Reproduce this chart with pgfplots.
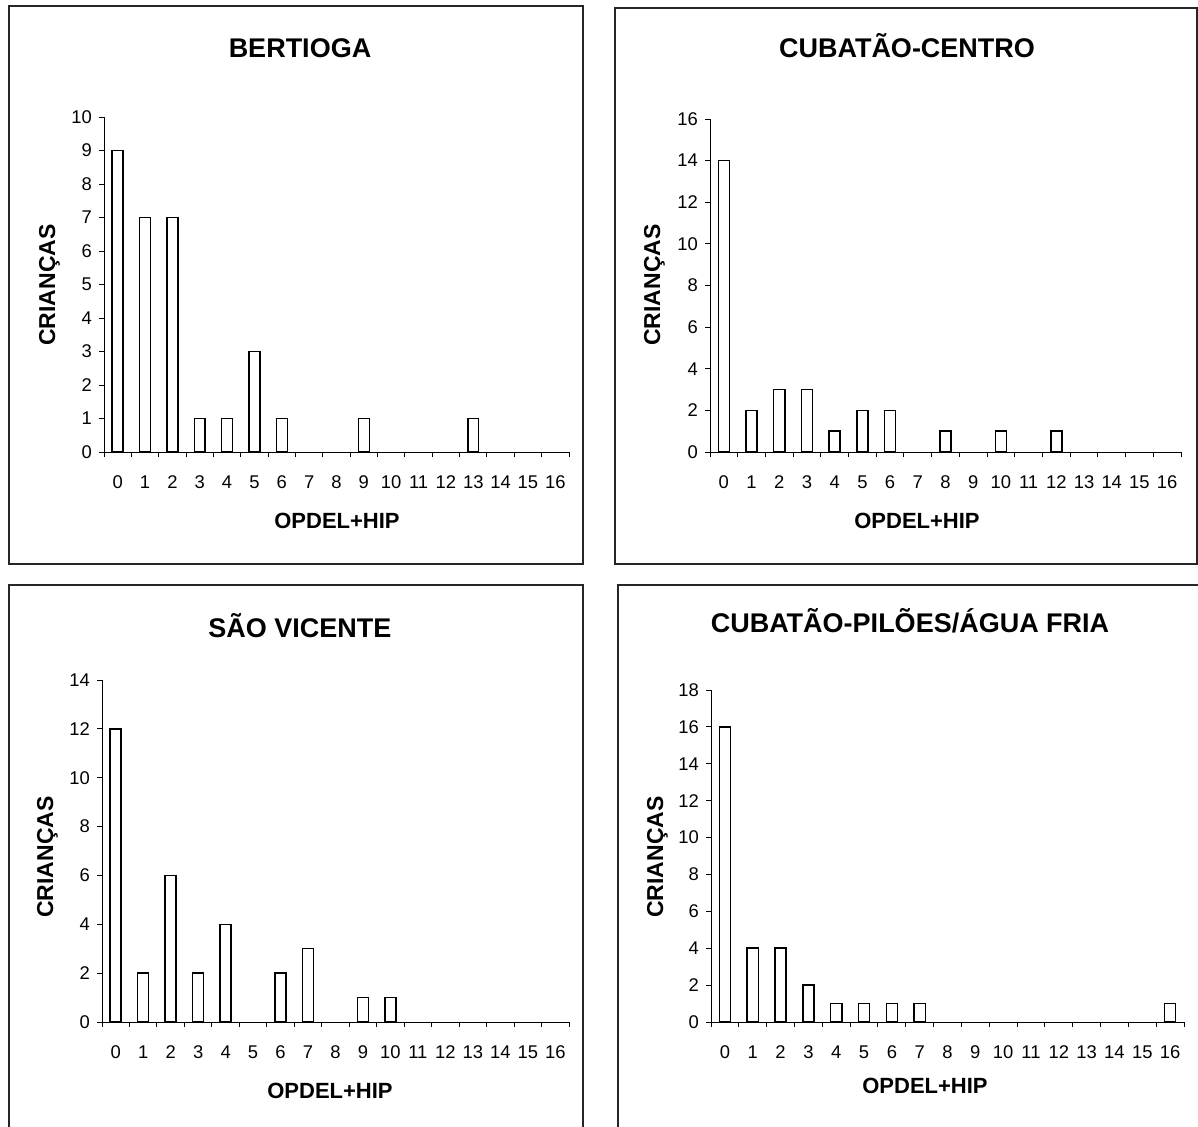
\documentclass[border=0pt]{standalone}
\usepackage{pgfplots}
\pgfplotsset{compat=1.18}
\usepackage{fontspec}
\setmainfont{Liberation Sans}
\pgfplotsset{
  panel/.style={
    scale only axis, anchor=south west,
    xmin=-0.5, xmax=16.5, ymin=0,
    axis x line*=bottom, axis y line*=left,
    axis line style={-, black, line width=0.5pt},
    x axis line style={-}, y axis line style={-},
    xtick={0,...,16},
    minor xtick={-0.5,0.5,...,16.5},
    major x tick style={draw=none},
    minor x tick style={black, line width=0.5pt},
    y tick style={black, line width=0.5pt},
    tick align=outside,
    major tick length=2.5pt, minor tick length=2.5pt,
    tick label style={font=\fontsize{9.2}{10}\selectfont},
    /pgf/number format/assume math mode=true,
    xticklabel style={yshift=-6pt},
    yticklabel style={xshift=0pt},
    ybar, bar width=0.4,
  },
}
\tikzset{
  bars/.style={fill=white, draw=black, line width=0.75pt},
  ttl/.style={font=\fontsize{13.5}{16}\selectfont\bfseries, anchor=base},
  xlab/.style={font=\fontsize{11}{13}\selectfont\bfseries, anchor=base},
  ylab/.style={font=\fontsize{11.5}{13}\selectfont\bfseries, anchor=base, rotate=90},
}
\begin{document}
\begin{tikzpicture}
\path[use as bounding box] (0pt,0pt) rectangle (599pt,-563pt);
\clip (0pt,0pt) rectangle (599pt,-563pt);
% frames
\draw[black!85, line width=0.8pt] (4.5pt,-3pt) rectangle (291.5pt,-282pt);
\draw[black!85, line width=0.8pt] (307.5pt,-4pt) rectangle (598.5pt,-282pt);
\draw[black!85, line width=0.8pt] (4.5pt,-292.5pt) rectangle (291.5pt,-570pt);
\draw[black!85, line width=0.8pt] (309pt,-292.5pt) rectangle (605pt,-570pt);
% titles
\node[ttl] at (150pt,-28.5pt) {BERTIOGA};
\node[ttl] at (453.5pt,-28.5pt) {CUBATÃO-CENTRO};
\node[ttl] at (150pt,-318.5pt) {SÃO VICENTE};
\node[ttl] at (455pt,-316pt) {CUBATÃO-PILÕES/ÁGUA FRIA};
% x labels
\node[xlab] at (168.5pt,-264pt) {OPDEL+HIP};
\node[xlab] at (458.5pt,-264pt) {OPDEL+HIP};
\node[xlab] at (165pt,-549pt) {OPDEL+HIP};
\node[xlab] at (462.5pt,-546.5pt) {OPDEL+HIP};
% y labels
\node[ylab] at (27.5pt,-142.5pt) {CRIANÇAS};
\node[ylab] at (330pt,-142.5pt) {CRIANÇAS};
\node[ylab] at (26.5pt,-428.5pt) {CRIANÇAS};
\node[ylab] at (331.5pt,-428.5pt) {CRIANÇAS};
% BERTIOGA
\begin{axis}[panel, at={(52pt,-226pt)}, width=232.5pt, height=167.5pt,
  ymax=10, ytick={0,1,...,10}]
\addplot[bars] coordinates {(0,9) (1,7) (2,7) (3,1) (4,1) (5,3) (6,1) (9,1) (13,1)};
\end{axis}
% CUBATAO-CENTRO
\begin{axis}[panel, at={(355pt,-226pt)}, width=235.5pt, height=166.5pt,
  ymax=16, ytick={0,2,...,16}]
\addplot[bars] coordinates {(0,14) (1,2) (2,3) (3,3) (4,1) (5,2) (6,2) (8,1) (10,1) (12,1)};
\end{axis}
% SAO VICENTE
\begin{axis}[panel, at={(51pt,-511pt)}, width=233.5pt, height=171pt,
  ymax=14, ytick={0,2,...,14}]
\addplot[bars] coordinates {(0,12) (1,2) (2,6) (3,2) (4,4) (6,2) (7,3) (9,1) (10,1)};
\end{axis}
% CUBATAO-PILOES
\begin{axis}[panel, at={(355.5pt,-511pt)}, width=236.5pt, height=166pt,
  ymax=18, ytick={0,2,...,18}]
\addplot[bars] coordinates {(0,16) (1,4) (2,4) (3,2) (4,1) (5,1) (6,1) (7,1) (16,1)};
\end{axis}
\end{tikzpicture}
\end{document}
